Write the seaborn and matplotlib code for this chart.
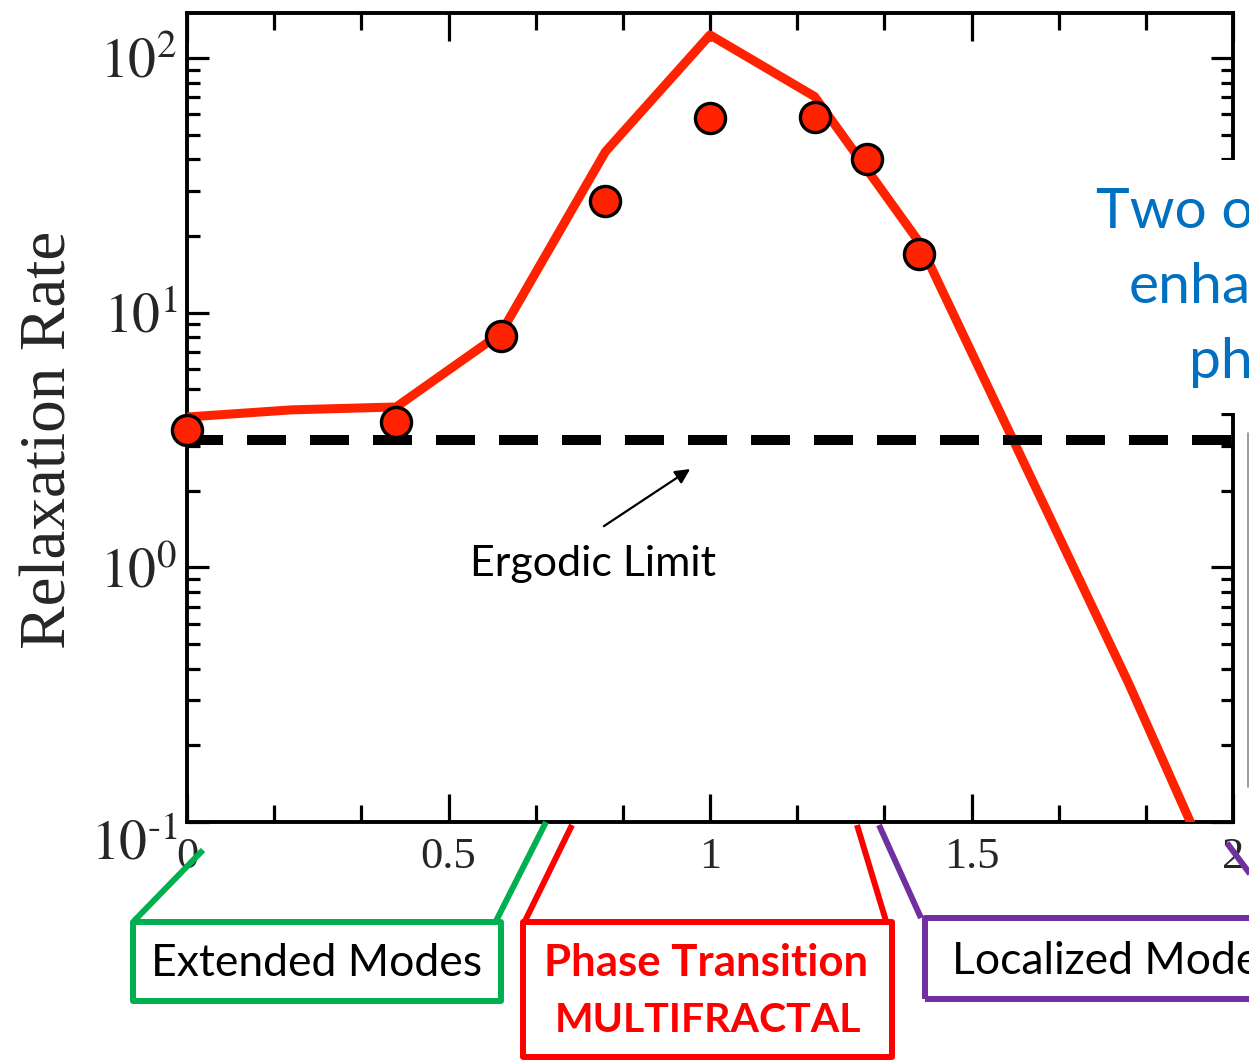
import numpy as np
import matplotlib
matplotlib.use("Agg")
import matplotlib.pyplot as plt
import seaborn as sns
from matplotlib.patches import Rectangle
from matplotlib.lines import Line2D
from matplotlib.transforms import ScaledTranslation
from matplotlib.ticker import MultipleLocator, LogLocator, NullFormatter

# Simulated relaxation rate (solid curve)
theory_x = [0.0, 0.2, 0.4, 0.6, 0.8, 1.0, 1.2, 1.4, 1.8, 2.0]
theory_rate = [3.89, 4.15, 4.26, 8.3, 42.8, 123.0, 70.5, 18.9, 0.352, 0.042]

# Measured relaxation rate (circles)
measured_x = [0.0, 0.4, 0.6, 0.8, 1.0, 1.2, 1.3, 1.4]
measured_rate = [3.46, 3.73, 8.09, 27.4, 57.9, 58.7, 40.1, 17.0]

# Ergodic limit (dashed line)
ergodic_limit = 3.16

x_ticks = [0, 0.5, 1, 1.5, 2]
x_tick_labels = ["0", "0.5", "1", "1.5", "2"]
y_ticks = [0.1, 1, 10, 100]
y_tick_labels = [r"$10^{\text{-}1}$", r"$10^{0}$", r"$10^{1}$", r"$10^{2}$"]

regime_labels = ["Extended Modes", "Phase Transition", "MULTIFRACTAL", "Localized Modes"]
callout_lines = ["Two orders of", "enhancement", "phase"]

RED = "#ff2200"

sns.set_theme(style="ticks")
plt.rcParams["font.family"] = ["Liberation Serif", "DejaVu Serif"]
plt.rcParams["mathtext.fontset"] = "stix"
plt.rcParams["axes.linewidth"] = 2.8

W, H = 1249, 1062
fig = plt.figure(figsize=(W / 100, H / 100), dpi=100)
fig.patch.set_facecolor("white")


def fx(px):
    return px / W


def fy(py):
    return 1 - py / H


ax = fig.add_axes([fx(187), fy(822), (1233 - 187) / W, (822 - 13) / H])
ax.set_facecolor("white")
ax.set_yscale("log")

sns.lineplot(x=theory_x, y=theory_rate, ax=ax, color=RED, lw=6.5,
             sort=False, zorder=3)
ax.axhline(ergodic_limit, color="black", lw=7.2, ls=(0.3, (3.9, 2.4)), zorder=4)
sns.scatterplot(x=measured_x, y=measured_rate, ax=ax, s=470, color=RED,
                edgecolor="black", linewidth=2.4, zorder=5, clip_on=False)

# Ergodic limit annotation
ax.annotate("", xy=(0.962, 2.43), xytext=(0.797, 1.45),
            arrowprops=dict(arrowstyle="-|>", lw=1.6, color="black",
                            mutation_scale=22, shrinkA=0, shrinkB=0))
ax.text(0.776, 1.03, "Ergodic Limit", family="Lato", fontsize=31,
        ha="center", va="center", color="black")

ax.set_xlim(0, 2)
ax.set_ylim(0.1, 150)
ax.set_xticks(x_ticks, labels=x_tick_labels)
ax.xaxis.set_minor_locator(MultipleLocator(1 / 6))
ax.set_yticks(y_ticks, labels=y_tick_labels)
ax.yaxis.set_minor_locator(LogLocator(base=10, subs=np.arange(2, 10), numticks=20))
ax.yaxis.set_minor_formatter(NullFormatter())

ax.tick_params(which="both", direction="in", top=True, right=True,
               width=2.3, color="black")
ax.tick_params(axis="x", which="major", length=20, pad=11, labelsize=32)
ax.tick_params(axis="x", which="minor", length=12)
ax.tick_params(axis="y", which="major", length=16, pad=7, labelsize=40)
ax.tick_params(axis="y", which="minor", length=9)
for s in ax.spines.values():
    s.set_color("black")

# the lowest decade label sits a little below its tick
low = ax.yaxis.get_major_ticks()[0].label1
low.set_transform(low.get_transform() + ScaledTranslation(0, -0.17, fig.dpi_scale_trans))

ax.set_ylabel("Relaxation Rate", fontsize=47)
ax.yaxis.set_label_coords(-0.103, 0.472)

# Regime boxes below the axis
BOX_LW = 4.3
GREEN, BRED, PURPLE, BLUE = "#00b050", "#ff0000", "#7030a0", "#0070c0"


def box(x0, y0, x1, y1, color):
    fig.patches.append(Rectangle((fx(x0), fy(y1)), fx(x1) - fx(x0), fy(y0) - fy(y1),
                                 transform=fig.transFigure, fill=False,
                                 edgecolor=color, lw=BOX_LW, joinstyle="round",
                                 zorder=5))


def leader(p, q, color):
    fig.lines.append(Line2D([fx(p[0]), fx(q[0])], [fy(p[1]), fy(q[1])],
                            transform=fig.transFigure, color=color, lw=BOX_LW,
                            solid_capstyle="butt", zorder=5))


box(133, 922, 501, 1001, GREEN)
leader((203, 850), (134, 921), GREEN)
leader((546, 822), (496, 921), GREEN)
fig.text(fx(317), fy(963), regime_labels[0], family="Lato", fontsize=32,
         ha="center", va="center", color="black")

box(523, 922, 892, 1057, BRED)
leader((572, 825), (525, 921), BRED)
leader((857, 825), (886, 921), BRED)
fig.text(fx(706), fy(963), regime_labels[1], family="Lato", fontweight="bold",
         fontsize=31.5, ha="center", va="center", color=BRED)
fig.text(fx(708), fy(1021), regime_labels[2], family="Lato", fontweight="bold",
         fontsize=29.5, ha="center", va="center", color=BRED)

box(925, 918, 1290, 999, PURPLE)
leader((879, 825), (921, 918), PURPLE)
leader((1227, 843), (1262, 890), PURPLE)
fig.text(fx(952), fy(961), regime_labels[3], family="Lato", fontsize=32,
         ha="left", va="center", color="black")

# Call-out text on the right
fig.patches.append(Rectangle((fx(1085), fy(413)), fx(1300) - fx(1085), fy(160) - fy(413),
                             transform=fig.transFigure, facecolor="white",
                             edgecolor="none", zorder=5))
for (px, py), line in zip([(1096, 212), (1129, 288), (1189, 362)], callout_lines):
    fig.text(fx(px), fy(py), line, family="Lato", fontsize=41, ha="left",
             va="center", color=BLUE, zorder=6)

fig.lines.append(Line2D([fx(1248), fx(1248)], [fy(433), fy(787)],
                        transform=fig.transFigure, color="#8c8c8c", lw=1.2,
                        zorder=5))

fig.savefig("out.png", dpi=100, facecolor="white")
